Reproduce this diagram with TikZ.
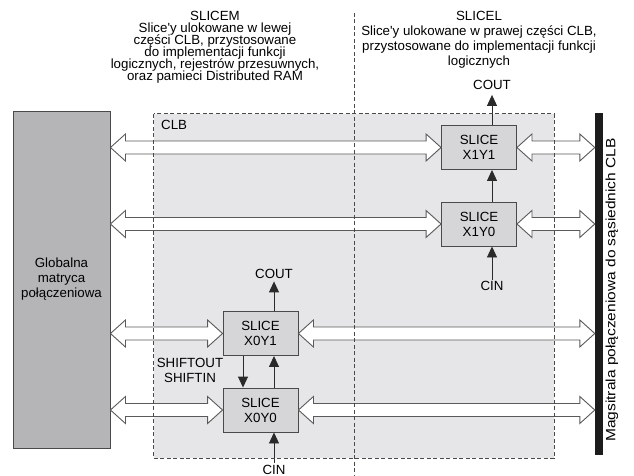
\documentclass[tikz,border=0pt]{standalone}
\usepackage{fontspec}
\setmainfont{Liberation Sans}[Ligatures=TeXOff]
\newfontfamily\widefont{Liberation Sans}[Ligatures=TeXOff, FakeStretch=1.15]
\usetikzlibrary{arrows.meta,calc}
\definecolor{globfill}{HTML}{B5B5B7}
\definecolor{clbfill}{HTML}{E6E6E8}
\definecolor{slicefill}{HTML}{D6D6D8}
\definecolor{edgegray}{HTML}{4A4A4A}
\definecolor{hollowedge}{HTML}{5A5A5A}
\definecolor{busblack}{HTML}{1C1C1C}
\definecolor{arrowdark}{HTML}{2A2A2A}
\newcommand{\fnt}[2]{\fontsize{#1}{#2}\selectfont\lineskiplimit-50pt\relax}
\newcommand{\hollowarrow}[2]{%
  \path[hollow] let \p1=(#1), \p2=(#2) in
   (\x1,\y1) -- (\x1+15pt,\y1+13.5pt) -- (\x1+15pt,\y1+6.5pt) -- (\x2-15pt,\y1+6.5pt)
   -- (\x2-15pt,\y1+13.5pt) -- (\x2,\y1) -- (\x2-15pt,\y1-13.5pt) -- (\x2-15pt,\y1-6.5pt)
   -- (\x1+15pt,\y1-6.5pt) -- (\x1+15pt,\y1-13.5pt) -- cycle;}
\tikzset{
  lbl/.style={font=\fnt{13.3}{15}, inner sep=0pt},
  slicebox/.style={draw=edgegray, fill=slicefill, line width=0.9pt, minimum width=75pt,
    minimum height=44pt, align=center, inner sep=0pt, font=\fnt{13.3}{15}},
  hollow/.style={draw=hollowedge, fill=white, line width=0.9pt, line join=miter},
  sarrow/.style={draw=arrowdark, line width=0.9pt, -{Triangle[length=11pt,width=10pt]}},
  dashline/.style={draw=edgegray, line width=0.8pt, dash pattern=on 4pt off 2.5pt}
}
\begin{document}
\begin{tikzpicture}[x=1pt,y=-1pt]
\useasboundingbox (0,0) rectangle (634,476);
\fill[white] (0,0) rectangle (634,476);

% CLB background
\node[fill=clbfill, minimum width=400pt, minimum height=344pt, inner sep=0pt] (clb) at (354,286) {};
\node[lbl, anchor=west] (clblabel) at (161,125) {CLB};

% global matrix and bus
\node[draw=edgegray, fill=globfill, line width=0.9pt, minimum width=97pt, minimum height=337pt,
  align=center, lbl] (glob) at (61.5,279.5) {Globalna\\matryca\\połączeniowa};
\node[fill=busblack, minimum width=8pt, minimum height=342pt, inner sep=0pt] (bus) at (599,284) {};
\node[inner sep=0pt, rotate=90, font=\widefont\fnt{13.5}{15}] (buslabel) at (612,290)
  {Magsitrala połączeniowa do sąsiednich CLB};

% slices
\node[slicebox] (s11) at (479,147.5) {SLICE\\X1Y1};
\node[slicebox] (s10) at (479,224) {SLICE\\X1Y0};
\node[slicebox] (s01) at (260.5,333.5) {SLICE\\X0Y1};
\node[slicebox] (s00) at (260.5,410) {SLICE\\X0Y0};

% hollow bus arrows
\hollowarrow{glob.east |- s11.west}{s11.west}
\hollowarrow{glob.east |- s10.west}{s10.west}
\hollowarrow{glob.east |- s01.west}{s01.west}
\hollowarrow{glob.east |- s00.west}{s00.west}
\hollowarrow{s11.east}{bus.west |- s11.east}
\hollowarrow{s10.east}{bus.west |- s10.east}
\hollowarrow{s01.east}{bus.west |- s01.east}
\hollowarrow{s00.east}{bus.west |- s00.east}

% top texts
\node[lbl, anchor=north, align=center, font=\fnt{13.3}{12}] (slicem) at (215,11.25)
  {SLICEM\\Slice'y ulokowane w lewej\\części CLB, przystosowane\\do implementacji funkcji\\logicznych, rejestrów przesuwnych,\\oraz pamieci Distributed RAM};
\node[lbl, anchor=north, align=center, font=\fnt{13.3}{15}] (slicel) at (479,11.25)
  {SLICEL\\Slice'y ulokowane w prawej części CLB,\\przystosowane do implementacji funkcji\\logicznych};

% carry / shift arrows
\node[lbl] (cout1) at (492,85) {COUT};
\draw[sarrow] (s11.north -| cout1) -- ([yshift=-5pt]cout1.south);
\draw[sarrow] (s10.north -| cout1) -- (s11.south -| cout1);
\node[lbl] (cin1) at (492,286) {CIN};
\draw[sarrow] ([yshift=1.5pt]cin1.north) -- (s10.south -| cin1);

\node[lbl] (cout0) at (274,273.5) {COUT};
\draw[sarrow] (s01.north -| cout0) -- ([yshift=-3pt]cout0.south);
\draw[sarrow] (s00.north -| cout0) -- (s01.south -| cout0);
\draw[sarrow] ([xshift=-17.5pt]s01.south) -- ([xshift=-17.5pt]s00.north);
\node[lbl] (cin0) at (274,470) {CIN};
\draw[sarrow] ([yshift=2pt]cin0.north) -- (s00.south -| cin0);
\node[lbl, align=center] (shift) at (190,370.5) {SHIFTOUT\\SHIFTIN};

% dashed outlines on top
\draw[dashline] (clb.north west) rectangle (clb.south east);
\coordinate (divtop) at (354,13);
\coordinate (divbot) at (354,476);
\draw[dashline] (divtop) -- (divbot);
\end{tikzpicture}
\end{document}
